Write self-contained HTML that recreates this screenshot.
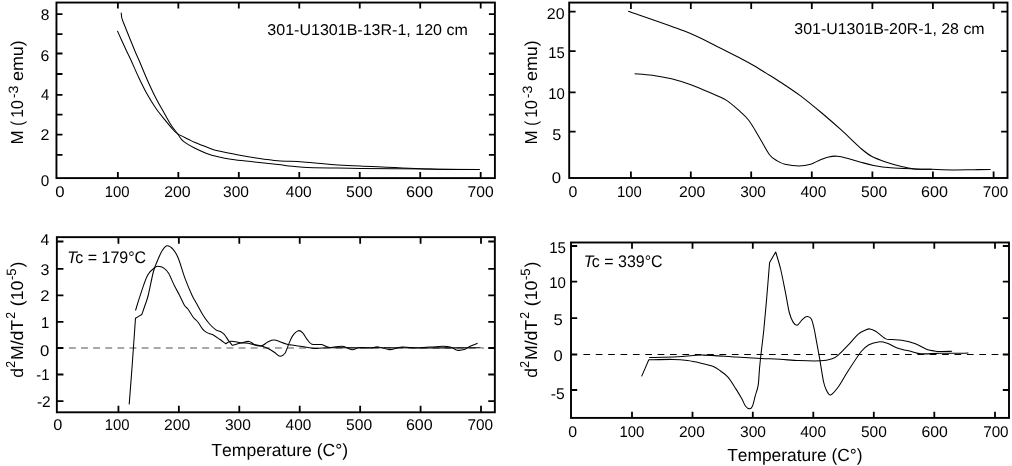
<!DOCTYPE html>
<html lang="en">
<head>
<meta charset="utf-8">
<title>Thermomagnetic curves</title>
<style>html,body{margin:0;padding:0;background:#fff}svg{display:block}</style>
</head>
<body>
<svg width="1012" height="466" viewBox="0 0 1012 466">
<defs><filter id="soft" x="0" y="0" width="1012" height="466" filterUnits="userSpaceOnUse"><feGaussianBlur stdDeviation="0.32"/></filter></defs>
<rect width="1012" height="466" fill="#fff"/>
<g filter="url(#soft)">
<g>
<rect x="56.45" y="2.55" width="438.45" height="175.55" fill="none" stroke="#000" stroke-width="1.9"/>
<path d="M117.87,178.1v-6M117.87,2.55v6M178.34,178.1v-6M178.34,2.55v6M238.81,178.1v-6M238.81,2.55v6M299.28,178.1v-6M299.28,2.55v6M359.75,178.1v-6M359.75,2.55v6M420.22,178.1v-6M420.22,2.55v6M480.69,178.1v-6M480.69,2.55v6M56.45,154.8h6M494.9,154.8h-6M56.45,134.6h6M494.9,134.6h-6M56.45,114.6h6M494.9,114.6h-6M56.45,94.8h6M494.9,94.8h-6M56.45,74h6M494.9,74h-6M56.45,53.5h6M494.9,53.5h-6M56.45,34.1h6M494.9,34.1h-6M56.45,14.1h6M494.9,14.1h-6" fill="none" stroke="#000" stroke-width="1.8"/>
<path d="M121.2,12.6C121.28,13.42 121.42,16.07 121.7,17.5C121.98,18.93 122.7,20.58 122.9,21.2C124.83,26 131.83,43.53 134.5,50C137.17,56.47 136.78,55.05 138.9,60C141.02,64.95 144.4,73.42 147.2,79.7C150,85.98 152.85,92.12 155.7,97.7C158.55,103.28 161.72,108.62 164.3,113.2C166.88,117.78 168.97,121.75 171.2,125.2C173.43,128.65 175.98,131.55 177.7,133.9C179.42,136.25 180.12,137.77 181.5,139.3C182.88,140.83 183.75,141.6 186,143.1C188.25,144.6 191.57,146.58 195,148.3C198.43,150.02 202.93,152.02 206.6,153.4C210.27,154.78 212.7,155.58 217,156.6C221.3,157.62 226.13,158.62 232.4,159.5C238.67,160.38 247,161.05 254.6,161.9C262.2,162.75 269.93,163.72 278,164.6C286.07,165.48 293.07,166.62 303,167.2C312.93,167.78 328.1,167.9 337.6,168.1C347.1,168.3 344.77,168.23 360,168.4C375.23,168.57 409.07,168.92 429,169.1C448.93,169.28 471.17,169.43 479.6,169.5" fill="none" stroke="#000" stroke-width="1.05" stroke-linejoin="round"/>
<path d="M117.4,30.9C118.85,34.08 123.85,45.15 126.1,50C128.35,54.85 128.82,55.47 130.9,60C132.98,64.53 135.88,71.48 138.6,77.2C141.32,82.92 144.35,89.17 147.2,94.3C150.05,99.43 152.85,103.85 155.7,108C158.55,112.15 161.43,115.62 164.3,119.2C167.17,122.78 170.67,127.05 172.9,129.5C175.13,131.95 175.13,132.28 177.7,133.9C180.27,135.52 185.42,137.77 188.3,139.2C191.18,140.63 190.65,140.7 195,142.5C199.35,144.3 211.17,148.75 214.4,150C218.67,150.88 233.3,154.02 240,155.3C246.7,156.58 248.27,156.8 254.6,157.7C260.93,158.6 269.93,160 278,160.7C286.07,161.4 293.07,161.2 303,161.9C312.93,162.6 328.1,164.23 337.6,164.9C347.1,165.57 344.77,165.22 360,165.9C375.23,166.58 409.07,168.4 429,169C448.93,169.6 471.17,169.42 479.6,169.5" fill="none" stroke="#000" stroke-width="1.05" stroke-linejoin="round"/>
<rect x="569.2" y="2.58" width="438.3" height="175.42" fill="none" stroke="#000" stroke-width="1.9"/>
<path d="M630.9,178v-6.4M630.9,2.58v6.4M690.8,178v-6.4M690.8,2.58v6.4M751.2,178v-6.4M751.2,2.58v6.4M811.8,178v-6.4M811.8,2.58v6.4M872.4,178v-6.4M872.4,2.58v6.4M932.9,178v-6.4M932.9,2.58v6.4M993.6,178v-6.4M993.6,2.58v6.4M569.2,11.65h6.4M1007.5,11.65h-6.4M569.2,51.1h6.4M1007.5,51.1h-6.4M569.2,92.3h6.4M1007.5,92.3h-6.4M569.2,131.7h6.4M1007.5,131.7h-6.4" fill="none" stroke="#000" stroke-width="1.8"/>
<path d="M628.2,11.2C637.57,14.52 669.67,25.27 684.4,31.1C699.13,36.93 707.28,41.67 716.6,46.2C725.92,50.73 734.2,55.12 740.3,58.3C746.4,61.48 748.92,62.83 753.2,65.3C757.48,67.77 761.82,70.53 766,73.1C770.18,75.67 772.22,76.67 778.3,80.7C784.38,84.73 794.77,91.5 802.5,97.3C810.23,103.1 818.2,110.02 824.7,115.5C831.2,120.98 835.48,124.73 841.5,130.2C847.52,135.67 855.8,143.97 860.8,148.3C865.8,152.63 867.22,153.88 871.5,156.2C875.78,158.52 881.5,160.48 886.5,162.2C891.5,163.92 897.03,165.42 901.5,166.5C905.97,167.58 908.28,168.23 913.3,168.7C918.32,169.17 924.98,169.1 931.6,169.3C938.22,169.5 945.85,169.84 953,169.9C960.15,169.96 968.23,169.72 974.5,169.65C980.77,169.58 987.92,169.53 990.6,169.5" fill="none" stroke="#000" stroke-width="1.05" stroke-linejoin="round"/>
<path d="M634.6,73.7C637.53,73.95 646.05,74.35 652.2,75.2C658.35,76.05 665.05,77.2 671.5,78.8C677.95,80.4 684.45,82.47 690.9,84.8C697.35,87.13 704.4,90.28 710.2,92.8C716,95.32 720.97,97 725.7,99.9C730.43,102.8 734.73,106.77 738.6,110.2C742.47,113.63 745.47,116 748.9,120.5C752.33,125 755.77,131.5 759.2,137.2C762.63,142.9 766.5,150.75 769.5,154.7C772.5,158.65 774.63,159.32 777.2,160.9C779.77,162.48 781.25,163.35 784.9,164.2C788.55,165.05 794.8,166 799.1,166C803.4,166 807.22,165.22 810.7,164.2C814.18,163.18 817.02,161.12 820,159.9C822.98,158.68 825.73,157.52 828.6,156.9C831.47,156.28 833.98,155.95 837.2,156.2C840.42,156.45 843.97,157.4 847.9,158.4C851.83,159.4 856.52,161.03 860.8,162.2C865.08,163.37 868.6,164.47 873.6,165.4C878.6,166.33 884.18,167.22 890.8,167.8C897.42,168.38 906.5,168.65 913.3,168.9C920.1,169.15 928.55,169.23 931.6,169.3" fill="none" stroke="#000" stroke-width="1.05" stroke-linejoin="round"/>
<rect x="56.85" y="237.15" width="438" height="175.15" fill="none" stroke="#000" stroke-width="1.9"/>
<path d="M118.43,412.3v-6.6M118.43,237.15v6.6M178.86,412.3v-6.6M178.86,237.15v6.6M239.29,412.3v-6.6M239.29,237.15v6.6M299.72,412.3v-6.6M299.72,237.15v6.6M360.15,412.3v-6.6M360.15,237.15v6.6M420.58,412.3v-6.6M420.58,237.15v6.6M481.01,412.3v-6.6M481.01,237.15v6.6M56.85,241.5h6.6M494.85,241.5h-6.6M56.85,268.8h6.6M494.85,268.8h-6.6M56.85,295.4h6.6M494.85,295.4h-6.6M56.85,321.9h6.6M494.85,321.9h-6.6M56.85,348h6.6M494.85,348h-6.6M56.85,374.5h6.6M494.85,374.5h-6.6M56.85,401.15h6.6M494.85,401.15h-6.6" fill="none" stroke="#000" stroke-width="1.8"/>
<path d="M68.9,348H483.8" fill="none" stroke="#8c8c8c" stroke-width="1.6" stroke-dasharray="6.9 5.22"/>
<path d="M129.2,404.4C129.7,397.83 131.15,379.35 132.2,365C133.25,350.65 134.95,326.08 135.5,318.3C136.55,317.67 140.75,315.13 141.8,314.5C142.35,312.92 144.02,308.25 145.1,305C146.18,301.75 146.88,300.67 148.3,295C149.72,289.33 151.85,277.25 153.6,271C155.35,264.75 157.3,261 158.8,257.5C160.3,254 161.22,251.95 162.6,250C163.98,248.05 165.35,245.92 167.1,245.8C168.85,245.68 171.23,247.22 173.1,249.3C174.97,251.38 176.3,253.42 178.3,258.3C180.3,263.18 182.83,272.48 185.1,278.6C187.37,284.72 190.02,290.88 191.9,295C193.78,299.12 194.53,299.92 196.4,303.3C198.27,306.68 200.98,311.93 203.1,315.3C205.22,318.67 206.97,321.07 209.1,323.5C211.23,325.93 214.02,328.57 215.9,329.9C217.78,331.23 219.02,330.75 220.4,331.5C221.78,332.25 222.82,332.85 224.2,334.4C225.58,335.95 227.33,338.98 228.7,340.8C230.07,342.62 231.78,344.55 232.4,345.3C233.78,344.93 237.93,343.75 240.7,343.1C243.47,342.45 246.82,341.22 249,341.4C251.18,341.58 251.62,343.38 253.8,344.2C255.98,345.02 259.57,345.5 262.1,346.3C264.63,347.1 266.92,347.97 269,349C271.08,350.03 272.75,351.3 274.6,352.5C276.45,353.7 278.37,356.08 280.1,356.2C281.83,356.32 283.62,355.08 285,353.2C286.38,351.32 287.13,347.78 288.4,344.9C289.67,342.02 290.93,338.27 292.6,335.9C294.27,333.53 296.68,331.17 298.4,330.7C300.12,330.23 301.45,331.65 302.9,333.1C304.35,334.55 305.6,337.55 307.1,339.4C308.6,341.25 309.48,343.33 311.9,344.2C314.32,345.07 318.6,344.07 321.6,344.6C324.6,345.13 326.43,347.12 329.9,347.4C333.37,347.68 338.72,345.92 342.4,346.3C346.08,346.68 349.23,349.47 352,349.7C354.77,349.93 356,347.98 359,347.7C362,347.42 366.78,348.13 370,348C373.22,347.87 375.07,346.63 378.3,346.9C381.53,347.17 385.48,349.57 389.4,349.6C393.32,349.63 396.97,347.4 401.8,347.1C406.63,346.8 412.17,347.92 418.4,347.8C424.63,347.68 433.9,346.55 439.2,346.4C444.5,346.25 447.22,346.27 450.2,346.9C453.18,347.53 454.78,349.75 457.1,350.2C459.42,350.65 462.02,350.23 464.1,349.6C466.18,348.97 467.35,347.45 469.6,346.4C471.85,345.35 476.27,343.82 477.6,343.3" fill="none" stroke="#000" stroke-width="1.05" stroke-linejoin="round"/>
<path d="M135.5,310.5C136.38,307.68 138.78,299.47 140.8,293.6C142.82,287.73 145.22,279.68 147.6,275.3C149.98,270.92 153.1,268.77 155.1,267.3C157.1,265.83 158.1,266.33 159.6,266.5C161.1,266.67 162.6,267.17 164.1,268.3C165.6,269.43 166.85,270.33 168.6,273.3C170.35,276.27 172.8,282.48 174.6,286.1C176.4,289.72 177.77,291.82 179.4,295C181.03,298.18 182.95,302.82 184.4,305.2C185.85,307.58 186.6,307.25 188.1,309.3C189.6,311.35 191.77,315.38 193.4,317.5C195.03,319.62 196.4,320.12 197.9,322C199.4,323.88 200.9,327.03 202.4,328.8C203.9,330.57 205.15,331.6 206.9,332.6C208.65,333.6 210.77,333.68 212.9,334.8C215.03,335.92 217.57,337.8 219.7,339.3C221.83,340.8 224.7,343.05 225.7,343.8C226.57,343.38 228.4,341.47 230.9,341.3C233.4,341.13 237.8,342.48 240.7,342.8C243.6,343.12 244.97,342.67 248.3,343.2C251.63,343.73 257.47,346.18 260.7,346C263.93,345.82 265.38,343.08 267.7,342.1C270.02,341.12 271.38,339.75 274.6,340.1C277.82,340.45 282.4,343.12 287,344.2C291.6,345.28 297.58,345.9 302.2,346.6C306.82,347.3 310.32,348.22 314.7,348.4C319.08,348.58 317.62,347.82 328.5,347.7C339.38,347.58 364.75,347.67 380,347.7C395.25,347.73 403.22,347.88 420,347.9C436.78,347.92 470.58,347.82 480.7,347.8" fill="none" stroke="#000" stroke-width="1.05" stroke-linejoin="round"/>
<rect x="571" y="242.5" width="438" height="175.4" fill="none" stroke="#000" stroke-width="1.9"/>
<path d="M632,417.9v-6.2M632,242.5v6.2M692.5,417.9v-6.2M692.5,242.5v6.2M752.8,417.9v-6.2M752.8,242.5v6.2M813.3,417.9v-6.2M813.3,242.5v6.2M873.8,417.9v-6.2M873.8,242.5v6.2M934.3,417.9v-6.2M934.3,242.5v6.2M995,417.9v-6.2M995,242.5v6.2M571,246h6.2M1009,246h-6.2M571,281.6h6.2M1009,281.6h-6.2M571,318.1h6.2M1009,318.1h-6.2M571,354.5h6.2M1009,354.5h-6.2M571,390h6.2M1009,390h-6.2" fill="none" stroke="#000" stroke-width="1.8"/>
<path d="M583.4,354.5H1001" fill="none" stroke="#000" stroke-width="1.05" stroke-dasharray="6.7 5.67"/>
<path d="M641.6,376.4C642.8,373.63 647.6,362.57 648.8,359.8C652.7,359.73 665.73,359.28 672.2,359.4C678.67,359.52 682.77,359.87 687.6,360.5C692.43,361.13 697,362.23 701.2,363.2C705.4,364.17 709.58,365 712.8,366.3C716.02,367.6 717.93,369.17 720.5,371C723.07,372.83 725.63,374.32 728.2,377.3C730.77,380.28 733.65,385.35 735.9,388.9C738.15,392.45 740.08,395.7 741.7,398.6C743.32,401.5 744.3,404.6 745.6,406.3C746.9,408 748.37,408.8 749.5,408.8C750.63,408.8 751.43,408.48 752.4,406.3C753.37,404.12 754.33,399.23 755.3,395.7C756.27,392.17 757.5,389.62 758.2,385.1C758.9,380.58 759.02,373.92 759.5,368.6C759.98,363.28 760.38,359.63 761.1,353.2C761.82,346.77 762.87,339.2 763.8,330C764.73,320.8 765.73,309.27 766.7,298C767.67,286.73 769.12,268.33 769.6,262.4C770.62,260.67 774.68,253.73 775.7,252C776.52,254.83 778.98,262.3 780.6,269C782.22,275.7 783.95,284.95 785.4,292.2C786.85,299.45 788.02,307.52 789.3,312.5C790.58,317.48 791.78,319.98 793.1,322.1C794.42,324.22 795.75,325.52 797.2,325.2C798.65,324.88 800.22,321.65 801.8,320.2C803.38,318.75 805.12,316.7 806.7,316.5C808.28,316.3 810.02,316.75 811.3,319C812.58,321.25 813.67,326.98 814.4,330C815.13,333.02 814.83,332.38 815.7,337.1C816.57,341.82 818.3,350.9 819.6,358.3C820.9,365.7 822.37,376.18 823.5,381.5C824.63,386.82 825.22,387.95 826.4,390.2C827.58,392.45 828.67,395.48 830.6,395C832.53,394.52 835.17,391.17 838,387.3C840.83,383.43 843.73,377.77 847.6,371.8C851.47,365.83 857.65,356 861.2,351.5C864.75,347 866,346.4 868.9,344.8C871.8,343.2 875.55,342.17 878.6,341.9C881.65,341.63 883.98,342.13 887.2,343.2C890.42,344.27 893.87,346.92 897.9,348.3C901.93,349.68 907.55,350.58 911.4,351.5C915.25,352.42 916.23,353.49 921,353.8C925.77,354.11 933.17,353.44 940,353.35C946.83,353.26 957.27,353.32 962,353.25C966.73,353.18 967.33,352.96 968.4,352.9" fill="none" stroke="#000" stroke-width="1.05" stroke-linejoin="round"/>
<path d="M649.2,357.6C654,357.45 669.02,357.12 678,356.7C686.98,356.28 693.45,355.03 703.1,355.1C712.75,355.17 726.23,356.55 735.9,357.1C745.57,357.65 753.75,358.03 761.1,358.4C768.45,358.77 773.63,358.93 780,359.3C786.37,359.67 792.53,360.35 799.3,360.6C806.07,360.85 815.12,361.12 820.6,360.8C826.08,360.48 829.3,359.6 832.2,358.7C835.1,357.8 835.43,357.57 838,355.4C840.57,353.23 844.22,349.23 847.6,345.7C850.98,342.17 855.4,336.77 858.3,334.2C861.2,331.63 863.07,331.18 865,330.3C866.93,329.42 868.12,328.73 869.9,328.9C871.68,329.07 873.13,329.68 875.7,331.3C878.27,332.92 882.57,337.22 885.3,338.6C888.03,339.98 889.37,339.32 892.1,339.6C894.83,339.88 897.82,339.6 901.7,340.3C905.58,341 911.18,342.28 915.4,343.8C919.62,345.32 923.73,348.18 927,349.4C930.27,350.62 932.83,350.75 935,351.1C937.17,351.45 937.15,351.47 940,351.5C942.85,351.53 950.08,351.33 952.1,351.3" fill="none" stroke="#000" stroke-width="1.05" stroke-linejoin="round"/>
</g>
<g font-family="'Liberation Sans', Arial, Helvetica, sans-serif" fill="#000" text-rendering="geometricPrecision" style="font-kerning:none">
<text transform="translate(55.15,197.1) scale(1.0800,1)" font-size="15.5">0</text>
<text transform="translate(104.81,197.1) scale(0.9600,1)" font-size="15.5">100</text>
<text transform="translate(164.15,197.1) scale(1.0255,1)" font-size="15.5">200</text>
<text transform="translate(223.06,197.1) scale(1.0014,1)" font-size="15.5">300</text>
<text transform="translate(285.79,197.1) scale(1.0000,1)" font-size="15.5">400</text>
<text transform="translate(346.11,197.1) scale(1.0270,1)" font-size="15.5">500</text>
<text transform="translate(405.92,197.1) scale(1.0544,1)" font-size="15.5">600</text>
<text transform="translate(467.55,197.1) scale(1.0098,1)" font-size="15.5">700</text>
<text transform="translate(53.31,430.2) scale(1.0527,1)" font-size="15.5">0</text>
<text transform="translate(104.71,430.2) scale(0.9600,1)" font-size="15.5">100</text>
<text transform="translate(164.06,430.2) scale(1.0132,1)" font-size="15.5">200</text>
<text transform="translate(224.96,430.2) scale(1.0014,1)" font-size="15.5">300</text>
<text transform="translate(285.6,430.2) scale(0.9920,1)" font-size="15.5">400</text>
<text transform="translate(346.12,430.2) scale(1.0108,1)" font-size="15.5">500</text>
<text transform="translate(405.94,430.2) scale(1.0340,1)" font-size="15.5">600</text>
<text transform="translate(467.56,430.2) scale(0.9893,1)" font-size="15.5">700</text>
<text transform="translate(568.43,197.1) scale(1.0257,1)" font-size="15.5">0</text>
<text transform="translate(616.91,197.1) scale(0.9600,1)" font-size="15.5">100</text>
<text transform="translate(679.06,197.1) scale(1.0173,1)" font-size="15.5">200</text>
<text transform="translate(740.16,197.1) scale(0.9933,1)" font-size="15.5">300</text>
<text transform="translate(800.49,197.1) scale(1.0000,1)" font-size="15.5">400</text>
<text transform="translate(861.12,197.1) scale(1.0108,1)" font-size="15.5">500</text>
<text transform="translate(921.03,197.1) scale(1.0381,1)" font-size="15.5">600</text>
<text transform="translate(982.87,197.1) scale(0.9812,1)" font-size="15.5">700</text>
<text transform="translate(568.13,436.5) scale(1.0257,1)" font-size="15.5">0</text>
<text transform="translate(619.46,436.5) scale(0.9600,1)" font-size="15.5">100</text>
<text transform="translate(678.97,436.5) scale(1.0010,1)" font-size="15.5">200</text>
<text transform="translate(739.96,436.5) scale(1.0055,1)" font-size="15.5">300</text>
<text transform="translate(800.19,436.5) scale(1.0000,1)" font-size="15.5">400</text>
<text transform="translate(860.93,436.5) scale(0.9986,1)" font-size="15.5">500</text>
<text transform="translate(921.45,436.5) scale(1.0176,1)" font-size="15.5">600</text>
<text transform="translate(983.17,436.5) scale(0.9812,1)" font-size="15.5">700</text>
<text transform="translate(40.67,19.6) scale(1.0037,1)" font-size="15.5">8</text>
<text transform="translate(40.55,60.7) scale(1.0207,1)" font-size="15.5">6</text>
<text transform="translate(40.91,99.7) scale(0.9600,1)" font-size="15.5">4</text>
<text transform="translate(40.54,139.8) scale(1.0338,1)" font-size="15.5">2</text>
<text transform="translate(40.75,185.5) scale(0.9852,1)" font-size="15.5">0</text>
<text transform="translate(546.85,18.9) scale(1.0280,1)" font-size="15.5">20</text>
<text transform="translate(548.22,58) scale(0.9600,1)" font-size="15.5">15</text>
<text transform="translate(548.2,98.6) scale(0.9600,1)" font-size="15.5">10</text>
<text transform="translate(552.2,139.5) scale(1.0478,1)" font-size="15.5">5</text>
<text transform="translate(551.75,182.7) scale(1.0800,1)" font-size="15.5">0</text>
<text transform="translate(40.39,245) scale(1.0243,1)" font-size="15.5">4</text>
<text transform="translate(40.54,274.8) scale(1.0342,1)" font-size="15.5">3</text>
<text transform="translate(40.31,300.5) scale(1.0763,1)" font-size="15.5">2</text>
<text transform="translate(40.96,327.7) scale(0.9600,1)" font-size="15.5">1</text>
<text transform="translate(40.1,355.9) scale(1.0797,1)" font-size="15.5">0</text>
<text transform="translate(36.27,379.7) scale(0.9600,1)" font-size="15.5">-1</text>
<text transform="translate(36.96,407.1) scale(0.9989,1)" font-size="15.5">-2</text>
<text transform="translate(549.2,252.6) scale(0.9734,1)" font-size="15.5">15</text>
<text transform="translate(549.2,288.1) scale(0.9706,1)" font-size="15.5">10</text>
<text transform="translate(553.38,325.2) scale(1.0750,1)" font-size="15.5">5</text>
<text transform="translate(553.4,360.9) scale(1.0662,1)" font-size="15.5">0</text>
<text transform="translate(550.75,399.1) scale(1.0127,1)" font-size="15.5">-5</text>
<text transform="translate(267.34,34.9) scale(1.0280,1)" font-size="15.6">301-U1301B-13R-1, 120 cm</text>
<text transform="translate(794.34,34) scale(1.0211,1)" font-size="15.6">301-U1301B-20R-1, 28 cm</text>
<text transform="translate(211.26,456.2) scale(1.0040,1)" font-size="17.5">Temperature (C°)</text>
<text transform="translate(727.16,461.1) scale(0.9929,1)" font-size="17.5">Temperature (C°)</text>
<text transform="translate(22.9,144.55) rotate(-90) scale(0.9851,1)" font-size="17.3">M</text>
<text transform="translate(22.9,125.66) rotate(-90) scale(0.8503,1)" font-size="17.3">(</text>
<text transform="translate(22.9,117.75) rotate(-90) scale(0.9102,1)" font-size="17.3">10</text>
<text transform="translate(17.9,98.28) rotate(-90) scale(1.0545,1)" font-size="13.5">-3</text>
<text transform="translate(22.9,81.01) rotate(-90) scale(1.0344,1)" font-size="17.3">emu)</text>
<text transform="translate(536.9,144.55) rotate(-90) scale(0.9851,1)" font-size="17.3">M</text>
<text transform="translate(536.9,125.66) rotate(-90) scale(0.8503,1)" font-size="17.3">(</text>
<text transform="translate(536.9,117.75) rotate(-90) scale(0.9102,1)" font-size="17.3">10</text>
<text transform="translate(531.9,98.28) rotate(-90) scale(1.0545,1)" font-size="13.5">-3</text>
<text transform="translate(536.9,81.01) rotate(-90) scale(1.0344,1)" font-size="17.3">emu)</text>
<text transform="translate(23.3,377.79) rotate(-90) scale(1.0154,1)" font-size="17.3">d</text>
<text transform="translate(15.2,367.77) rotate(-90) scale(0.9456,1)" font-size="13">2</text>
<text transform="translate(23.3,360) rotate(-90) scale(1.0215,1)" font-size="17.3">M/dT</text>
<text transform="translate(15.2,318.67) rotate(-90) scale(0.9456,1)" font-size="13">2</text>
<text transform="translate(23.3,306.15) rotate(-90) scale(1.0234,1)" font-size="17.3">(10</text>
<text transform="translate(16.3,280.03) rotate(-90) scale(0.9689,1)" font-size="13.5">-5</text>
<text transform="translate(23.3,267.25) rotate(-90) scale(0.9375,1)" font-size="17.3">)</text>
<text transform="translate(537.3,377.79) rotate(-90) scale(1.0154,1)" font-size="17.3">d</text>
<text transform="translate(529.2,367.77) rotate(-90) scale(0.9456,1)" font-size="13">2</text>
<text transform="translate(537.3,360) rotate(-90) scale(1.0215,1)" font-size="17.3">M/dT</text>
<text transform="translate(529.2,318.67) rotate(-90) scale(0.9456,1)" font-size="13">2</text>
<text transform="translate(537.3,306.15) rotate(-90) scale(1.0234,1)" font-size="17.3">(10</text>
<text transform="translate(530.3,280.03) rotate(-90) scale(0.9689,1)" font-size="13.5">-5</text>
<text transform="translate(537.3,267.25) rotate(-90) scale(0.9375,1)" font-size="17.3">)</text>
<text transform="translate(67.21,262.5) scale(0.9537,1)" font-size="16.8"><tspan font-style="italic">T</tspan><tspan dx="-1.8">c = 179°C</tspan></text>
<text transform="translate(583.81,267.1) scale(0.9524,1)" font-size="16.8"><tspan font-style="italic">T</tspan><tspan dx="-1.8">c = 339°C</tspan></text>
</g>
</g>
</svg>
</body>
</html>
